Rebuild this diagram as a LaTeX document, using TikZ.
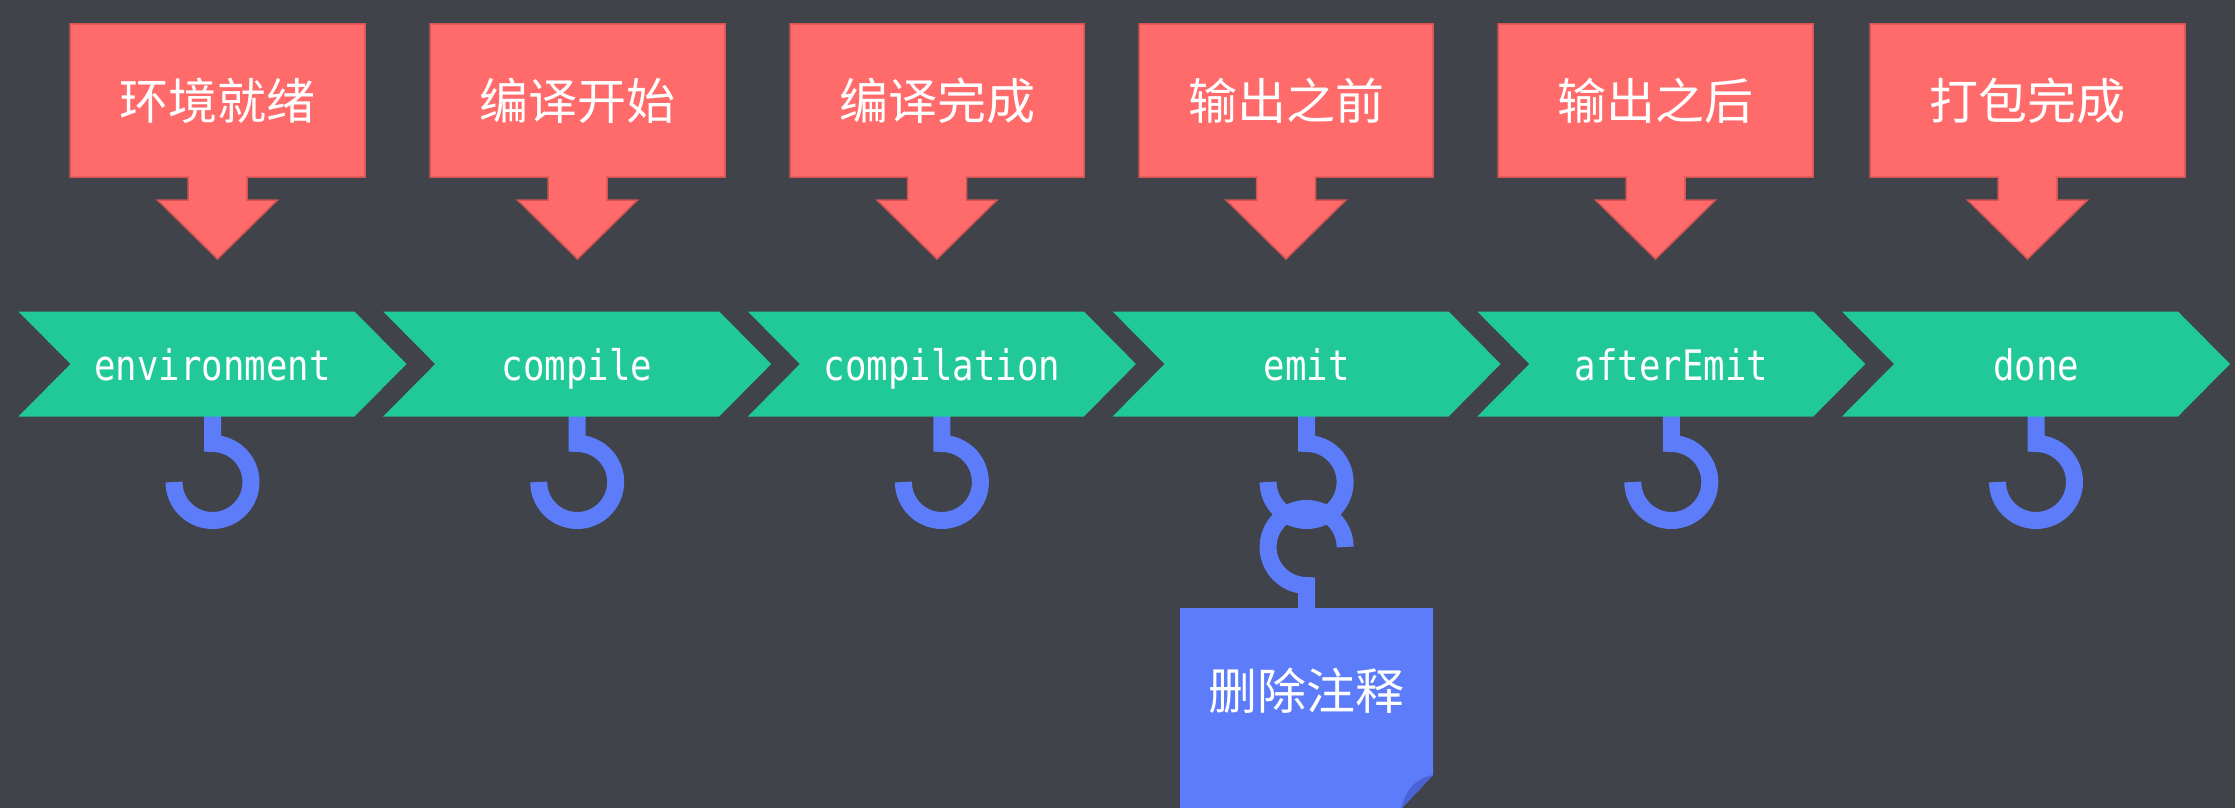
\documentclass[tikz,border=0pt]{standalone}
\usepackage{fontspec}
\newfontfamily\zhfont{Noto Sans CJK SC}
\newfontfamily\chevfont[FakeStretch=0.85]{DejaVu Sans Mono}
\definecolor{bgcol}{HTML}{404349}
\definecolor{redfill}{HTML}{FF6B6B}
\definecolor{redline}{HTML}{D65454}
\definecolor{chevgreen}{HTML}{20C997}
\definecolor{hookblue}{HTML}{5C7CFA}
\definecolor{folddark}{HTML}{4A62D6}
\begin{document}
\begin{tikzpicture}[x=1pt,y=-1pt,
  redshape/.style={fill=redfill,draw=redline,line width=1.5pt},
  chevshape/.style={fill=chevgreen},
  hookline/.style={draw=hookblue,line width=17pt},
  notebody/.style={fill=hookblue},
  foldpart/.style={fill=folddark},
  zhlabel/.style={text=white,font=\zhfont\fontsize{49}{49}\selectfont,inner sep=0pt},
  chevlabel/.style={text=white,font=\chevfont\fontsize{42}{42}\selectfont,inner sep=0pt,anchor=base}]
\fill[bgcol] (0,0) rectangle (2235,808);
\useasboundingbox (0,0) rectangle (2235,808);
% red boxes with down arrows
\foreach \L/\R/\c/\t [count=\i] in {70/365/217.5/环境就绪,430/725/577.5/编译开始,790/1084/937/编译完成,1139/1433/1286/输出之前,1498/1813/1655.5/输出之后,1870/2185/2027.5/打包完成}
{
  \draw[redshape] (\L,24) -- (\R,24) -- (\R,177) -- (\c+29.5,177) -- (\c+29.5,200) -- (\c+60,200) -- (\c,259) -- (\c-60,200) -- (\c-29.5,200) -- (\c-29.5,177) -- (\L,177) -- cycle;
  \node[zhlabel] (box\i) at (\c,100.5) {\t};
}
% hooks
\foreach \i in {0,...,5}
{
  \pgfmathsetmacro{\h}{18.5+364.7*\i+194}
  \coordinate (hk\i) at (\h,410);
  \draw[hookline] (hk\i) -- (\h,443.5) arc[start angle=-90,end angle=180,radius=38.5];
}
% second hook of emit
\coordinate (lowhook) at (1345.1,547);
\coordinate (notetop) at (1306.6,610);
\draw[hookline] (lowhook) arc[start angle=0,end angle=-270,radius=38.5] -- (notetop);
% chevrons
\foreach \t [count=\i from 0] in {environment,compile,compilation,emit,afterEmit,done}
{
  \pgfmathsetmacro{\x}{18.5+364.7*\i}
  \fill[chevshape] (\x,311.5) -- ++(336,0) -- ++(52,52.5) -- ++(-52,52.5) -- ++(-336,0) -- ++(52,-52.5) -- cycle;
  \node[chevlabel] (chev\i) at (\x+194,380.5) {\t};
}
% note
\fill[notebody] (1180,608) -- (1433,608) -- (1433,775) -- (1400,810) -- (1180,810) -- cycle;
\fill[foldpart] (1433,775) .. controls (1415,779) and (1407,788) .. (1401,809) -- cycle;
\node[zhlabel] (note) at (1306.6,691) {删除注释};
\end{tikzpicture}
\end{document}
